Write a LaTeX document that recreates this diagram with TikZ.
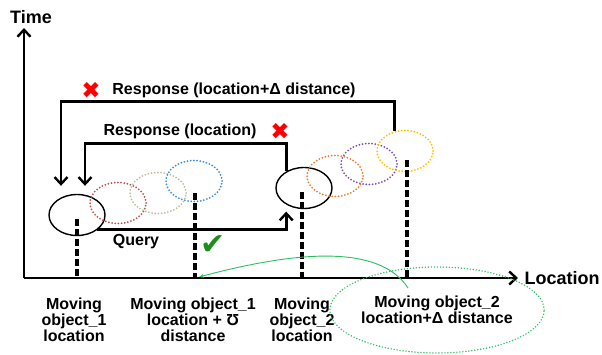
\documentclass[tikz,border=0pt]{standalone}
\usepackage{fontspec}
\setmainfont{Liberation Sans}
\newfontfamily\symfont{DejaVu Sans}
\usetikzlibrary{arrows.meta,shapes.geometric,positioning}

\definecolor{brick}{HTML}{C0504D}
\definecolor{sand}{HTML}{C4BD97}
\definecolor{sky}{HTML}{3A8FD9}
\definecolor{tang}{HTML}{ED7D31}
\definecolor{grape}{HTML}{7E4FB0}
\definecolor{gold}{HTML}{FFC000}
\definecolor{leaf}{HTML}{2DBE60}
\definecolor{okgreen}{HTML}{1E8C1E}

\begin{document}
\begin{tikzpicture}[x=1pt,y=1pt,
    >={Straight Barb[length=7pt,width=13pt,line width=2.4pt]},
    obj/.style={ellipse,draw,line width=1.4pt,minimum width=56pt,
                minimum height=41pt,inner sep=0pt},
    trail/.style={obj,draw=#1,line width=2pt,dash pattern=on 0pt off 3.2pt,
                  line cap=round},
    link/.style={line width=2.8pt},
    tick/.style={line width=3.2pt,dash pattern=on 7pt off 3pt},
    lbl/.style={font=\fontsize{16}{16}\selectfont\bfseries,align=center},
    axlbl/.style={font=\fontsize{18}{18}\selectfont\bfseries},
    cross/.style={text=red,font=\symfont\fontsize{23}{23}\selectfont,inner sep=0pt}]
  \useasboundingbox (0,0) rectangle (602,354);

  % axes
  \coordinate (O) at (24,76);
  \coordinate (tTop) at (24,326);
  \coordinate (lEnd) at (518,76);
  \node[axlbl] (time) at (31,337) {Time};
  \node[axlbl] (loc)  at (562,76) {Location};
  \draw[link,->] (O) -- (tTop);
  \draw[link,->] (O) -- (lEnd);

  % moving objects and their trails
  \node[obj] (ob1) at (77,139) {};
  \node[trail=brick] (t11) at (118,151) {};
  \node[trail=sand]  (t12) at (158,161) {};
  \node[trail=sky]   (t13) at (194,173) {};
  \node[obj] (ob2) at (304,166) {};
  \node[trail=tang]  (t21) at (335,178) {};
  \node[trail=grape] (t22) at (369,190) {};
  \node[trail=gold]  (t23) at (405,203) {};

  % positions on the location axis
  \draw[tick] ([yshift=-4pt]ob1.center) -- (ob1.center |- O);
  \draw[tick] ([xshift=1pt,yshift=-12pt]t13.center) coordinate (b2top) -- (b2top |- O) coordinate (b2);
  \draw[tick] ([xshift=-2pt,yshift=-4pt]ob2.center) coordinate (b3top) -- (b3top |- O);
  \draw[tick] ([xshift=2pt,yshift=-9pt]t23.center) coordinate (b4top) -- (b4top |- O);

  % query and responses
  \draw[link,->] (ob1.-36) -| ([yshift=-7pt]ob2.223);
  \draw[link,->] (ob2.137) -- ++(0,28) -| ([xshift=8pt,yshift=8pt]ob1.north);
  \draw[link,->] (t23.117) -- ++(0,29) -| ([xshift=-16pt,yshift=8pt]ob1.north);

  \node[lbl] (q)  at (136,112) {Query};
  \node[lbl] (r1) at (180,223) {Response (location)};
  \node[lbl] (r2) at (234,264) {Response (location+Δ distance)};
  \node[cross] (x1) at (91,264) {✖};
  \node[cross] (x2) at (280,223) {✖};
  \node[text=okgreen,font=\symfont\fontsize{30}{30}\selectfont,inner sep=0pt] (ok) at (213,109) {✔};

  % labels under the axis
  \node[lbl] (l1) at (74,34)  {Moving\\object\_1\\location};
  \node[lbl] (l2) at (193,34) {Moving object\_1\\location + Ʊ\\distance};
  \node[lbl] (l3) at (302,34) {Moving\\object\_2\\location};
  \node[lbl,ellipse,draw=leaf,line width=1.6pt,dash pattern=on 0pt off 3pt,
        line cap=round,minimum width=170pt,minimum height=86pt,inner sep=0pt]
        (l4) at (437,44) {Moving object\_2\\location+Δ distance};

  \draw[leaf,line width=0.9pt,-{Stealth[length=5pt,width=4pt]}]
    ([shift={(-29,22)}]l4.center) .. controls (380,109) and (300,104) .. ([xshift=4pt,yshift=1pt]b2);
\end{tikzpicture}
\end{document}
